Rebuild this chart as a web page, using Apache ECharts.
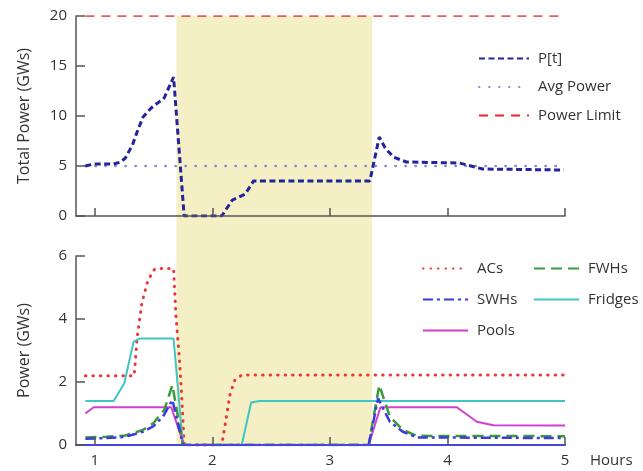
<!DOCTYPE html>
<html>
<head>
<meta charset="utf-8">
<script src="https://cdn.jsdelivr.net/npm/echarts@6/dist/echarts.min.js"></script>
<style>
  html, body { margin: 0; padding: 0; background: #fff; }
  #chart { width: 643px; height: 471px; }
</style>
</head>
<body>
<div id="chart"></div>
<script>
// hour ticks and the shaded control window
const hourTicks = [1, 2, 3, 4, 5]
const shadeWindow = [1.695, 3.36]

// top panel: total power [hour, GWs]
const totalPower = [
  [0.92, 5.0], [0.99, 5.2], [1.16, 5.2], [1.22, 5.4], [1.26, 5.8], [1.32, 7.1],
  [1.36, 8.4], [1.41, 9.9], [1.48, 10.8], [1.59, 11.8], [1.67, 13.9], [1.76, 0],
  [2.08, 0], [2.17, 1.6], [2.28, 2.2], [2.35, 3.5], [3.34, 3.5], [3.42, 7.9],
  [3.47, 6.8], [3.54, 5.9], [3.65, 5.4], [4.1, 5.3], [4.2, 5.0], [4.3, 4.7],
  [4.99, 4.6],
]
const avgPower = [[0.92, 5], [5, 5]]
const powerLimit = [[0.92, 20], [5, 20]]

// bottom panel: per-device power [hour, GWs]
const acs = [
  [0.92, 2.2], [1.335, 2.2], [1.36, 3.4], [1.4, 4.5], [1.45, 5.2], [1.5, 5.55],
  [1.52, 5.6], [1.67, 5.6], [1.69, 4.1], [1.72, 2.7], [1.74, 1.5], [1.76, 0],
  [2.08, 0], [2.12, 0.9], [2.15, 1.6], [2.19, 2.05], [2.25, 2.22], [5, 2.22],
]
const fwhs = [
  [0.92, 0.24], [1.1, 0.26], [1.26, 0.3], [1.41, 0.48], [1.5, 0.7], [1.59, 1.11],
  [1.66, 1.9], [1.75, 0], [3.33, 0], [3.42, 1.9], [3.51, 0.9], [3.62, 0.48],
  [3.74, 0.29], [5, 0.28],
]
const swhs = [
  [0.92, 0.2], [1.1, 0.22], [1.26, 0.26], [1.41, 0.42], [1.5, 0.6], [1.58, 0.9],
  [1.66, 1.43], [1.75, 0], [3.33, 0], [3.41, 1.48], [3.46, 1.1], [3.51, 0.74],
  [3.62, 0.42], [3.74, 0.24], [5, 0.22],
]
const fridges = [
  [0.92, 1.4], [1.16, 1.4], [1.25, 1.95], [1.33, 3.28], [1.38, 3.38], [1.67, 3.38],
  [1.75, 0], [2.25, 0], [2.33, 1.35], [2.4, 1.4], [5, 1.4],
]
const pools = [
  [0.92, 1.0], [0.99, 1.2], [1.65, 1.2], [1.76, 0], [3.33, 0], [3.43, 1.2],
  [4.08, 1.2], [4.25, 0.74], [4.39, 0.63], [5, 0.62],
]

const font = 'Open Sans'
const axisColor = '#555'

function hourAxis(gridIndex, extra) {
  return Object.assign({
    type: 'value',
    gridIndex,
    min: 0.84,
    max: 5,
    z: 3,
    axisLine: { lineStyle: { color: axisColor, width: 1.5 } },
    axisTick: { inside: true, length: 8, customValues: hourTicks, lineStyle: { color: axisColor, width: 1.5 } },
    axisLabel: { show: false },
    splitLine: { show: false },
  }, extra)
}

function powerAxis(gridIndex, max, interval, name) {
  return {
    type: 'value',
    gridIndex,
    min: 0,
    max,
    interval,
    z: 3,
    name,
    nameLocation: 'middle',
    nameGap: 44,
    nameTextStyle: { fontFamily: font, fontSize: 16, color: '#333' },
    axisLine: { show: true, lineStyle: { color: axisColor, width: 1.5 } },
    axisTick: { show: true, inside: true, length: 9, lineStyle: { color: axisColor, width: 1.5 } },
    axisLabel: { fontFamily: font, fontSize: 15, color: '#333', margin: 9 },
    splitLine: { show: false },
  }
}

function lineSeries(name, data, axis, color, width, type, cap) {
  return {
    name,
    type: 'line',
    xAxisIndex: axis,
    yAxisIndex: axis,
    data,
    symbol: 'none',
    z: 2,
    lineStyle: { color, width, type, cap: cap || 'butt' },
    itemStyle: { color },
    emphasis: { disabled: true },
  }
}

function legendBox(names, left, top, itemWidth, gap) {
  return {
    data: names,
    orient: 'vertical',
    left,
    top,
    padding: 0,
    itemWidth,
    itemHeight: 14,
    itemGap: gap,
    selectedMode: false,
    itemStyle: { opacity: 0 },
    textStyle: { fontFamily: font, fontSize: 15, color: '#333', padding: [0, 0, 0, 4] },
  }
}

const chart = echarts.init(document.getElementById('chart'))

chart.setOption({
  animation: false,
  textStyle: { fontFamily: font },
  grid: [
    { left: 76, right: 78, top: 16, height: 200 },
    { left: 76, right: 78, top: 256, height: 189 },
    { left: 76, right: 78, top: 16, height: 429 },
  ],
  xAxis: [
    hourAxis(0),
    hourAxis(1, {
      axisLine: { lineStyle: { color: '#4646dc', width: 2 } },
      axisLabel: { show: true, customValues: hourTicks, fontFamily: font, fontSize: 15, color: '#333', margin: 8 },
      name: 'Hours',
      nameLocation: 'end',
      nameGap: 25,
      nameTextStyle: { fontFamily: font, fontSize: 15, color: '#333', verticalAlign: 'top', padding: [8, 0, 0, 0] },
    }),
    { type: 'value', gridIndex: 2, min: 0.84, max: 5, show: false },
  ],
  yAxis: [
    powerAxis(0, 20, 5, 'Total Power (GWs)'),
    powerAxis(1, 6, 2, 'Power (GWs)'),
    { type: 'value', gridIndex: 2, min: 0, max: 1, show: false },
  ],
  legend: [
    legendBox(['P[t]', 'Avg Power', 'Power Limit'], 478, 51, 50, 13.5),
    legendBox(['ACs', 'SWHs', 'Pools'], 422, 261, 45, 16),
    legendBox(['FWHs', 'Fridges'], 533, 261, 45, 16),
  ],
  series: [
    {
      type: 'line',
      xAxisIndex: 2,
      yAxisIndex: 2,
      data: [],
      z: 0,
      silent: true,
      markArea: {
        silent: true,
        itemStyle: { color: '#f4efc5' },
        data: [[{ xAxis: shadeWindow[0] }, { xAxis: shadeWindow[1] }]],
      },
    },
    lineSeries('Power Limit', powerLimit, 0, '#dd2b2b', 1.5, [9, 7]),
    lineSeries('Avg Power', avgPower, 0, '#8c8cd2', 2.5, [0.5, 9.5], 'round'),
    lineSeries('P[t]', totalPower, 0, '#23239b', 3, [6, 3.5]),
    lineSeries('ACs', acs, 1, '#ee3535', 3, [0.5, 7], 'round'),
    lineSeries('Fridges', fridges, 1, '#3ec6c4', 2, 'solid'),
    lineSeries('Pools', pools, 1, '#d23fd0', 2, 'solid'),
    lineSeries('FWHs', fwhs, 1, '#3a9a3a', 2.5, [11, 6]),
    lineSeries('SWHs', swhs, 1, '#3a3ae0', 2.5, [10, 4, 3, 4]),
  ],
})
</script>
</body>
</html>
